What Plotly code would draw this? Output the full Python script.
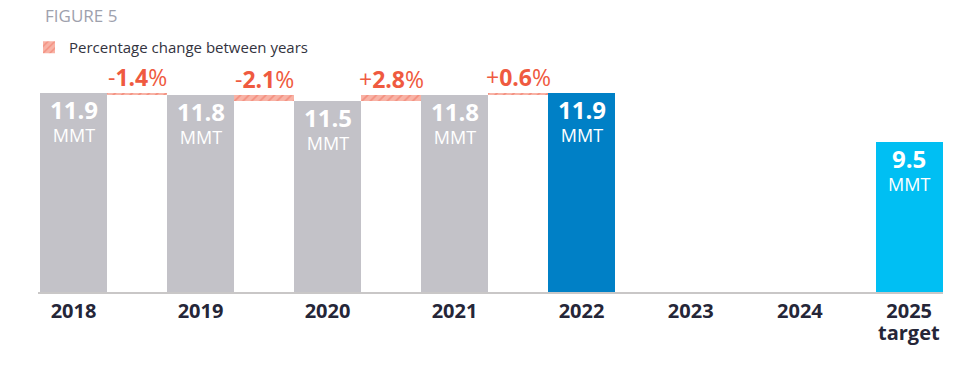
import plotly.graph_objects as go

# ---------------- data ----------------
years = ["2018", "2019", "2020", "2021", "2022", "2023", "2024", "2025"]
tick_labels = ["2018", "2019", "2020", "2021", "2022", "2023", "2024", "2025"]
tick_sublabels = [None, None, None, None, None, None, None, "target"]
values = [11.9, 11.8, 11.5, 11.8, 11.9, None, None, 9.5]   # MMT
change_labels = ["-1.4", "-2.1", "+2.8", "+0.6"]             # % change between consecutive years 2018-2022
unit = "MMT"

# ---------------- styling / layout helpers ----------------
GRAY = "#c3c2c8"
BLUE = "#0080c6"
CYAN = "#00bff3"
RED = "#ef5a40"
HATCH_FG = "#ee6b58"
HATCH_BG = "#f8b3a6"
DARK = "#252638"
FONT = "Open Sans"

W, H = 969, 366
ML, MR, MT, MB = 38, 26, 60, 74

n_actual = 5          # 2018..2022 drawn with change boxes in between
proj_step = 1.72      # narrower spacing for the later years


def xpos(i):
    if i < n_actual:
        return 2.0 * i
    return 2.0 * (n_actual - 1) + (i - n_actual + 1) * proj_step


bar_w = 1.055
colors = [GRAY, GRAY, GRAY, GRAY, BLUE, None, None, CYAN]

fig = go.Figure()

# main bars
bx, by, bc = [], [], []
for i, v in enumerate(values):
    if v is not None:
        bx.append(xpos(i))
        by.append(v)
        bc.append(colors[i])
fig.add_trace(go.Bar(x=bx, y=by, width=bar_w, marker=dict(color=bc, line=dict(width=0)),
                     showlegend=False, hoverinfo="skip"))

# change boxes
cx, cy, cb = [], [], []
for i in range(n_actual - 1):
    a, b = values[i], values[i + 1]
    cx.append((xpos(i) + xpos(i + 1)) / 2)
    cb.append(min(a, b))
    cy.append(abs(a - b))
fig.add_trace(go.Bar(x=cx, y=cy, base=cb, width=2 - bar_w,
                     marker=dict(color=HATCH_BG, line=dict(width=0),
                                 pattern=dict(shape="/", fgcolor=HATCH_FG, bgcolor=HATCH_BG,
                                              size=6, solidity=0.3)),
                     name="Percentage change between years", showlegend=True, hoverinfo="skip"))

annotations = []
# title
annotations.append(dict(x=(43 - ML) / (W - ML - MR), y=1 + (MT - 16) / (H - MT - MB),
                        xref="paper", yref="paper", xanchor="left", yanchor="middle",
                        text="FIGURE 5", showarrow=False,
                        font=dict(family=FONT, size=17, color="#9ea1ad")))
# percentage labels
for i, lab in enumerate(change_labels):
    top = max(values[i], values[i + 1])
    sign, num = lab[0], lab[1:]
    annotations.append(dict(x=cx[i], y=top, xref="x", yref="y", yanchor="bottom", yshift=-2,
                            text=f"{sign}<b>{num}</b>%", showarrow=False,
                            font=dict(family=FONT, size=23, color=RED)))
# value labels in bars
for i, v in enumerate(values):
    if v is None:
        continue
    annotations.append(dict(x=xpos(i), y=v, xref="x", yref="y", yanchor="top", yshift=2,
                            text=f"<span style='font-size:24px'><b>{v:.1f}</b></span><br>{unit}",
                            showarrow=False,
                            font=dict(family=FONT, size=18, color="white")))
# second line of tick labels
for i, s in enumerate(tick_sublabels):
    if s:
        annotations.append(dict(x=xpos(i), y=0, xref="x", yref="paper", yanchor="middle", yshift=-40,
                                text=f"<b>{s}</b>", showarrow=False,
                                font=dict(family=FONT, size=20, color=DARK)))

fig.update_layout(
    width=W, height=H,
    margin=dict(l=ML, r=MR, t=MT, b=MB, autoexpand=False),
    paper_bgcolor="white", plot_bgcolor="white",
    barmode="overlay", bargap=0,
    legend=dict(x=29 / W, xanchor="left", xref="container", y=1 - 31 / H, yanchor="top",
                yref="container", orientation="h", bgcolor="rgba(0,0,0,0)",
                font=dict(family=FONT, size=15, color="#333340")),
    annotations=annotations,
    showlegend=True,
)
fig.update_xaxes(range=[-0.559, 13.693], showgrid=False, zeroline=False, automargin=False,
                 showline=True, linecolor="#c9c7c7", linewidth=2,
                 tickvals=[xpos(i) for i in range(len(years))],
                 ticktext=[f"<b>{t}</b>" for t in tick_labels],
                 ticks="",
                 tickfont=dict(family=FONT, size=20, color=DARK), fixedrange=True)
fig.update_yaxes(range=[2.155, 13.51], visible=False, fixedrange=True, automargin=False)

fig.write_html("out.html", config={"displayModeBar": False},
               post_script="document.body.style.margin='0px';")
